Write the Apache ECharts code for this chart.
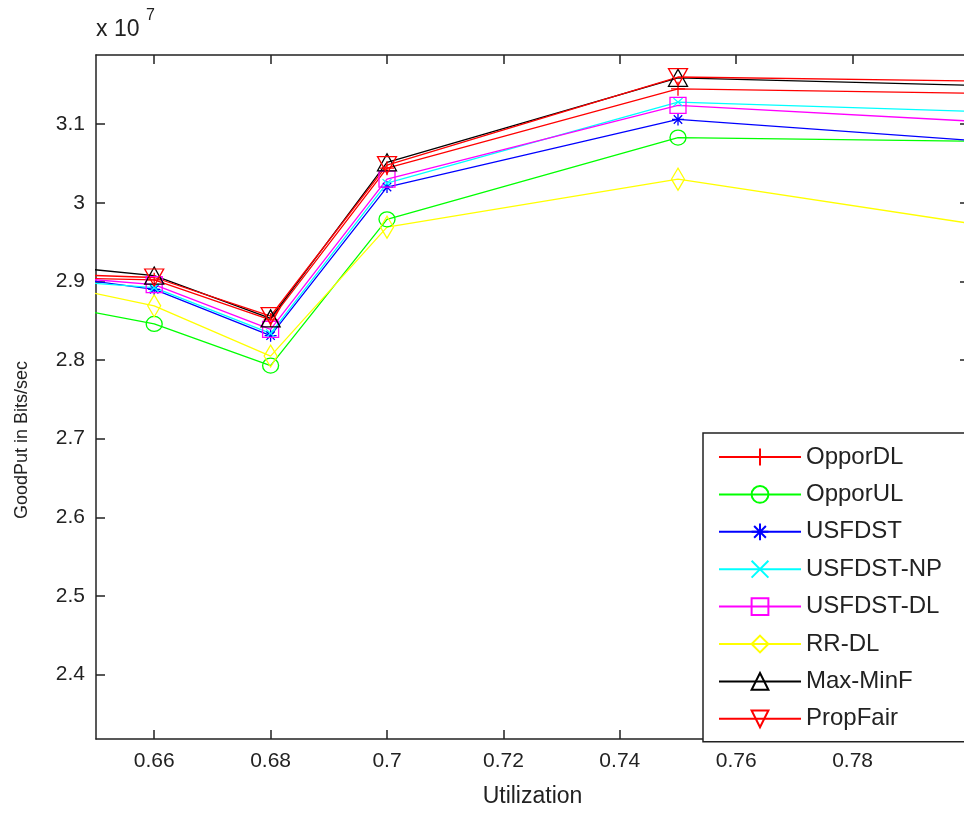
<!DOCTYPE html>
<html>
<head>
    <meta charset="UTF-8"/>
    <title>GoodPut vs Utilization</title>
    <style>
        * {
            padding: 0;
            margin: 0;
        }

        body {
            background-color: white;
            width: 964px;
            height: 814px;
            overflow: hidden;
        }

        #chart {
            width: 964px;
            height: 814px;
        }
    </style>
    <script src="https://cdn.jsdelivr.net/npm/echarts@6/dist/echarts.min.js"></script>
</head>
<body>
<div id="chart"></div>
<script>
    // goodput values are in units of 1e7 bits/sec (axis shows "x 10^7")
    const utilization = [0.64, 0.66, 0.68, 0.70, 0.75, 0.85]

    const opporDL = [2.905, 2.902, 2.851, 3.044, 3.145, 3.134]
    const opporUL = [2.874, 2.846, 2.793, 2.979, 3.083, 3.074]
    const usfdst = [2.910, 2.890, 2.831, 3.020, 3.106, 3.053]
    const usfdstNP = [2.903, 2.892, 2.834, 3.025, 3.128, 3.105]
    const usfdstDL = [2.908, 2.896, 2.839, 3.030, 3.124, 3.084]
    const rrDL = [2.900, 2.869, 2.805, 2.969, 3.030, 2.918]
    const maxMinF = [2.922, 2.9075, 2.853, 3.0515, 3.159, 3.140]
    const propFair = [2.910, 2.905, 2.856, 3.048, 3.160, 3.150]

    const xTicks = [0.66, 0.68, 0.70, 0.72, 0.74, 0.76, 0.78]
    const yTicks = [2.4, 2.5, 2.6, 2.7, 2.8, 2.9, 3.0, 3.1]

    const xMin = 0.65, xMax = 0.80
    const yMin = 2.318, yMax = 3.188

    // marker shapes, stroked only (like matlab markers)
    const marks = {
        plus: 'path://M5,0L5,10M0,5L10,5',
        circle: 'path://M10,5A5,5,0,1,1,0,5A5,5,0,1,1,10,5Z',
        star: 'path://M5,0L5,10M0,5L10,5M1.5,1.5L8.5,8.5M8.5,1.5L1.5,8.5',
        cross: 'path://M0,0L10,10M10,0L0,10',
        square: 'path://M0,0L10,0L10,10L0,10Z',
        diamond: 'path://M5,0L10,5L5,10L0,5Z',
        triUp: 'path://M5,0L10,10L0,10Z',
        triDown: 'path://M0,0L10,0L5,10Z'
    }

    const seriesDefs = [
        {name: 'OpporDL', data: opporDL, color: '#ff0000', symbol: marks.plus, size: 14},
        {name: 'OpporUL', data: opporUL, color: '#00ff00', symbol: marks.circle, size: [16, 15]},
        {name: 'USFDST', data: usfdst, color: '#0000ff', symbol: marks.star, size: 12},
        {name: 'USFDST-NP', data: usfdstNP, color: '#00ffff', symbol: marks.cross, size: [9, 8]},
        {name: 'USFDST-DL', data: usfdstDL, color: '#ff00ff', symbol: marks.square, size: 16},
        {name: 'RR-DL', data: rrDL, color: '#ffff00', symbol: marks.diamond, size: [13, 22]},
        {name: 'Max-MinF', data: maxMinF, color: '#000000', symbol: marks.triUp, size: [19, 17]},
        {name: 'PropFair', data: propFair, color: '#ff0000', symbol: marks.triDown, size: [19, 17]}
    ]

    const font = 'Liberation Sans'
    const ink = '#222'

    const chart = echarts.init(document.getElementById('chart'))

    const axisBase = {
        type: 'value',
        axisLine: {show: true, lineStyle: {color: ink, width: 1.5}},
        axisTick: {show: true, inside: true, length: 9, lineStyle: {color: ink, width: 1.5}},
        splitLine: {show: false}
    }

    chart.setOption({
        animation: false,
        backgroundColor: '#fff',
        // right edge of the plot box sits just past the picture edge
        grid: {left: 96, top: 55, width: 873, height: 684, outerBoundsMode: 'none'},
        graphic: [
            {type: 'text', left: 96, top: 18, style: {text: 'x 10', font: '23px "Liberation Sans"', fill: ink}},
            {type: 'text', left: 146, top: 8, style: {text: '7', font: '16px "Liberation Sans"', fill: ink}},
            {
                type: 'text', x: 22, y: 440, rotation: Math.PI / 2,
                style: {
                    text: 'GoodPut in Bits/sec', font: '18px "Liberation Sans"', fill: ink,
                    align: 'center', verticalAlign: 'middle'
                }
            }
        ],
        xAxis: [
            Object.assign({}, axisBase, {
                position: 'bottom',
                min: xMin,
                max: xMax,
                name: 'Utilization',
                nameLocation: 'middle',
                nameGap: 46,
                nameTextStyle: {fontFamily: font, fontSize: 23, color: ink},
                axisTick: Object.assign({}, axisBase.axisTick, {customValues: xTicks}),
                axisLabel: {
                    customValues: xTicks,
                    margin: 12,
                    fontFamily: font,
                    fontSize: 21,
                    color: ink,
                    formatter: v => String(+v.toFixed(2))
                }
            }),
            Object.assign({}, axisBase, {
                position: 'top',
                min: xMin,
                max: xMax,
                axisTick: Object.assign({}, axisBase.axisTick, {customValues: xTicks}),
                axisLabel: {show: false}
            })
        ],
        yAxis: [
            Object.assign({}, axisBase, {
                position: 'left',
                min: yMin,
                max: yMax,
                axisTick: Object.assign({}, axisBase.axisTick, {customValues: yTicks}),
                axisLabel: {
                    customValues: yTicks,
                    margin: 11,
                    fontFamily: font,
                    fontSize: 21,
                    color: ink,
                    formatter: v => String(+v.toFixed(1))
                }
            }),
            Object.assign({}, axisBase, {
                position: 'right',
                min: yMin,
                max: yMax,
                axisTick: Object.assign({}, axisBase.axisTick, {customValues: yTicks}),
                axisLabel: {show: false}
            })
        ],
        legend: {
            orient: 'vertical',
            left: 703,
            top: 433,
            padding: [12, 40, 11, 15],
            itemWidth: 82,
            itemHeight: 21,
            itemGap: 13.4,
            backgroundColor: '#fff',
            borderColor: ink,
            borderWidth: 1.5,
            borderRadius: 0,
            textStyle: {fontFamily: font, fontSize: 24, color: ink, lineHeight: 24},
            data: seriesDefs.map(s => s.name)
        },
        series: seriesDefs.map(s => ({
            name: s.name,
            type: 'line',
            xAxisIndex: 0,
            yAxisIndex: 0,
            clip: true,
            data: utilization.map((u, i) => [u, s.data[i]]),
            symbol: s.symbol,
            symbolSize: s.size,
            showAllSymbol: true,
            lineStyle: {color: s.color, width: 1.3},
            itemStyle: {color: 'rgba(0,0,0,0)', borderColor: s.color, borderWidth: 1.3},
            emphasis: {disabled: true}
        }))
    })
</script>
</body>
</html>
